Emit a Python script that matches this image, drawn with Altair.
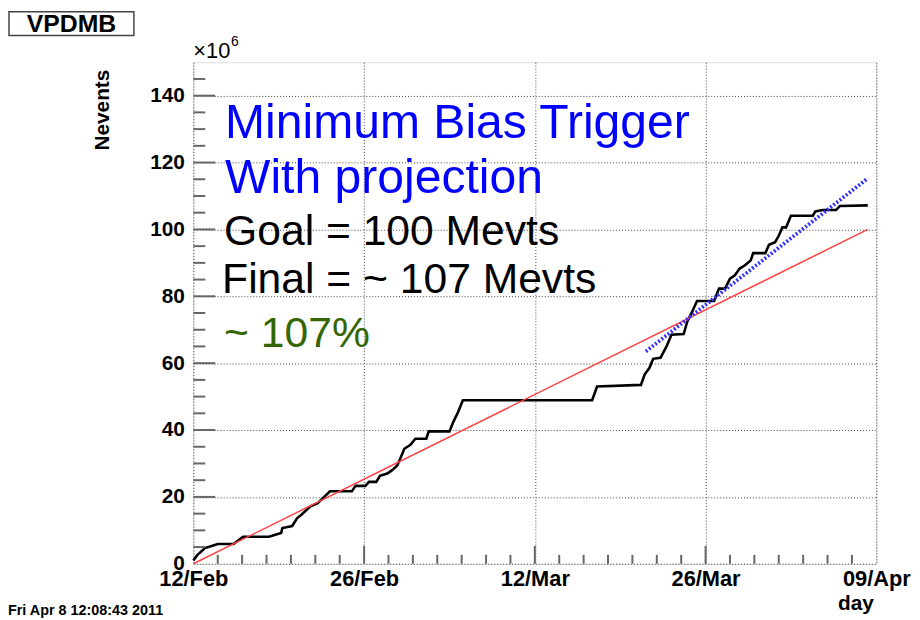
import altair as alt
import pandas as pd

# ---------------- data ----------------
day = [0, 0.3, 0.95, 1.5, 2.0, 3.3, 4.07, 6.2, 7.2, 7.3, 8.1, 8.5, 8.9, 9.6, 10.2,
       11.2, 13.0, 13.3, 14.1, 14.4, 15.0, 15.3, 15.9, 16.3, 16.7, 16.9, 17.3, 17.8,
       18.2, 19.1, 19.3, 21.0, 21.3, 21.7, 22.1, 32.7, 33.1, 36.7, 37.0, 37.4, 37.7,
       38.3, 38.8, 39.2, 40.2, 40.5, 40.9, 41.3, 42.7, 43.1, 43.6, 44.0, 44.4, 44.8,
       45.2, 45.7, 45.9, 46.9, 47.2, 47.7, 48.0, 48.3, 48.6, 49.0, 50.8, 51.0, 51.6,
       52.7, 53.0, 55.3]
nevents = [1.0, 2.5, 4.7, 5.3, 5.9, 5.9, 8.1, 8.1, 9.2, 10.7, 11.3, 13.6, 14.8, 17.2, 18.1,
           21.7, 21.7, 23.3, 23.3, 24.5, 24.5, 26.3, 27.0, 28.0, 29.3, 30.9, 34.4, 35.6,
           37.4, 37.4, 39.6, 39.6, 42.3, 45.3, 48.9, 48.9, 53.0, 53.5, 56.6, 58.6, 61.3,
           61.6, 65.0, 68.5, 68.7, 72.4, 75.4, 78.6, 78.6, 82.3, 82.3, 85.3, 86.3, 88.3,
           89.2, 90.7, 92.9, 92.9, 95.4, 96.2, 98.1, 100.6, 100.6, 104.1, 104.1, 105.4, 105.8,
           105.8, 107.0, 107.2]

goal_day = [0, 55.3]
goal_val = [0, 100]
proj_day = [37.1, 55.2]
proj_val = [63.5, 115]

x_tick_days = [0, 14, 28, 42, 56]
x_tick_labels = ["12/Feb", "26/Feb", "12/Mar", "26/Mar", "09/Apr"]
x_minor_days = [d for d in range(2, 56, 2) if d % 14 != 0]
y_ticks = [0, 20, 40, 60, 80, 100, 120, 140]
y_minor = [v for v in range(5, 150, 5) if v % 20 != 0]

# ---------------- layout ----------------
W, H = 689, 506
FONT = "Liberation Sans"
xscale = alt.Scale(domain=[0, 56], nice=False, zero=False)
yscale = alt.Scale(domain=[0, 150], nice=False)

label_expr = "[" + ",".join(f"'{s}'" for s in x_tick_labels) + "][round(datum.value/14)]"

xaxis = alt.Axis(values=x_tick_days, labelExpr=label_expr, title="day",
                 titleX=W - 3, titleY=46, titleAlign="right", titleBaseline="alphabetic",
                 titleFont=FONT, titleFontSize=21, titleFontWeight="bold", titleColor="black",
                 labelFont=FONT, labelFontSize=22, labelFontWeight="bold", labelColor="black",
                 labelPadding=5, labelFlush=False, tickSize=0, domain=False,
                 grid=True, gridDash=[1, 2], gridColor="#444", gridWidth=1)
yaxis = alt.Axis(values=y_ticks, title="Nevents",
                 titleAngle=270, titleAlign="right", titleBaseline="alphabetic",
                 titleX=-86, titleY=7,
                 titleFont=FONT, titleFontSize=21, titleFontWeight="bold", titleColor="black",
                 labelFont=FONT, labelFontSize=21, labelFontWeight="bold", labelColor="black",
                 labelPadding=9, tickSize=0, domain=False,
                 grid=True, gridDash=[1, 2], gridColor="#444", gridWidth=1)


def X(field):
    return alt.X(field, scale=xscale, axis=xaxis)


def Y(field):
    return alt.Y(field, scale=yscale, axis=yaxis)


df = pd.DataFrame({"day": day, "nevents": nevents})
main = alt.Chart(df).mark_line(color="black", strokeWidth=2.6).encode(
    x=X("day:Q"), y=Y("nevents:Q"))

goal = alt.Chart(pd.DataFrame({"day": goal_day, "nevents": goal_val})).mark_line(
    color="#ff4040", strokeWidth=1.5).encode(x=X("day:Q"), y=Y("nevents:Q"))

proj = alt.Chart(pd.DataFrame({"day": proj_day, "nevents": proj_val})).mark_line(
    color="#3030ff", strokeWidth=3.8, strokeDash=[2, 2]).encode(x=X("day:Q"), y=Y("nevents:Q"))

ymaj = alt.Chart(pd.DataFrame({"nevents": y_ticks[1:]})).mark_rule(color="#666", strokeWidth=2).encode(
    y=Y("nevents:Q"), x=alt.value(0), x2=alt.value(22))
ymin = alt.Chart(pd.DataFrame({"nevents": y_minor})).mark_rule(color="#666", strokeWidth=2).encode(
    y=Y("nevents:Q"), x=alt.value(0), x2=alt.value(12))
xmaj = alt.Chart(pd.DataFrame({"day": x_tick_days[1:-1]})).mark_rule(color="#666", strokeWidth=2).encode(
    x=X("day:Q"), y=alt.value(H), y2=alt.value(H - 18))
xmin = alt.Chart(pd.DataFrame({"day": x_minor_days})).mark_rule(color="#666", strokeWidth=2).encode(
    x=X("day:Q"), y=alt.value(H), y2=alt.value(H - 9))

one = alt.Data(values=[{}])


def txt(s, x, y, size, color="black", weight="normal", align="left", baseline="alphabetic"):
    return alt.Chart(one).mark_text(text=s, font=FONT, fontSize=size, color=color,
                                    fontWeight=weight, align=align, baseline=baseline).encode(
        x=alt.value(x), y=alt.value(y))


box = alt.Chart(one).mark_rect(fill="white", stroke="#444", strokeWidth=1.5).encode(
    x=alt.value(-186), x2=alt.value(-60), y=alt.value(-51), y2=alt.value(-27))

texts = [
    txt("Minimum Bias Trigger", 32, 76, 48.5, "#0000ff"),
    txt("With projection", 32, 132, 48.5, "#0000ff"),
    txt("Goal = 100 Mevts", 31, 184, 43),
    txt("Final = ~ 107 Mevts", 29, 233, 43),
    txt("~ 107%", 31, 287, 43, "#336600"),
    txt("VPDMB", -123, -39, 25, weight="bold", align="center", baseline="middle"),
    txt("\u00d710", 0, -4, 22),
    txt("6", 38, -16, 14),
    txt("Fri Apr  8 12:08:43 2011", -187, 558, 14.5, weight="bold"),
]

chart = alt.layer(main, goal, proj, ymaj, ymin, xmaj, xmin, box, *texts).properties(
    width=W, height=H, autosize="none",
    padding={"left": 187, "top": 52, "right": 36, "bottom": 54},
).configure_view(stroke="#666", strokeWidth=2).configure(background="white")

chart.save("out.html", embed_options={"renderer": "svg", "actions": False})
